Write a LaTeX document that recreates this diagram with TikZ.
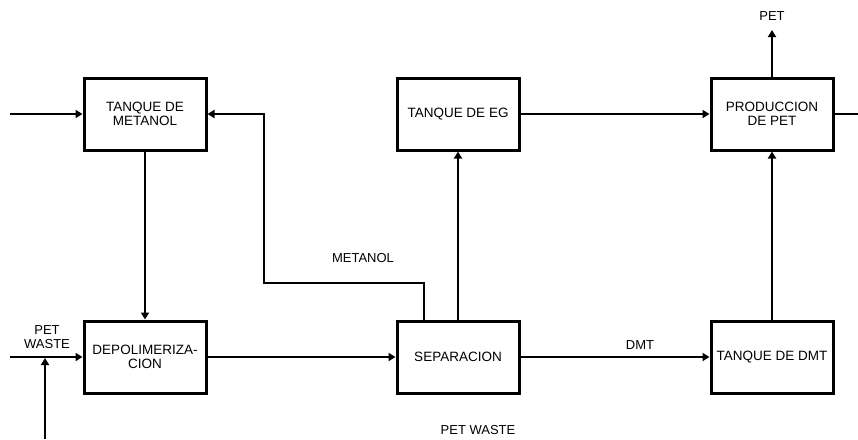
\documentclass[tikz,border=0pt]{standalone}
\usepackage{fontspec}
\setmainfont{Liberation Sans}
\usetikzlibrary{arrows.meta}
\begin{document}
\begin{tikzpicture}[x=1pt,y=-1pt,
  blk/.style={draw,line width=3pt,minimum width=122pt,minimum height=72pt,align=center,inner sep=0pt,font=\fontsize{13.5}{14.5}\selectfont},
  flow/.style={line width=2.6pt,-{Triangle[length=7pt,width=8pt]}},
  plain/.style={line width=2.6pt},
  lbl/.style={font=\fontsize{13}{14.5}\selectfont,inner sep=0pt,align=center}]
\useasboundingbox (0,0) rectangle (858,439);
\node[blk] (tm) at (145,114) {TANQUE DE\\METANOL};
\node[blk] (dp) at (145,357) {DEPOLIMERIZA-\\CION};
\node[blk] (sp) at (458,357) {SEPARACION};
\node[blk] (eg) at (458,114) {TANQUE DE EG};
\node[blk] (pp) at (772,114) {PRODUCCION\\DE PET};
\node[blk] (dm) at (772,357) {TANQUE DE DMT};
\coordinate (in1) at (10,114);
\coordinate (in2) at (10,357);
\coordinate (in3b) at (45,439);
\coordinate (in3t) at (45,358);
\coordinate (m1) at (424,283);
\coordinate (m2) at (264,283);
\coordinate (m3) at (264,114);
\coordinate (out1) at (858,114);
\coordinate (pet) at (772,30);
\draw[flow] (in1) -- (tm.west);
\draw[flow] (tm.south) -- (dp.north);
\draw[flow] (in2) -- (dp.west);
\draw[flow] (in3b) -- (in3t);
\draw[flow] (dp.east) -- (sp.west);
\draw[flow] (sp.north -| m1) -- (m1) -- (m2) -- (m3) -- (tm.east);
\draw[flow] (sp.north) -- (eg.south);
\draw[flow] (eg.east) -- (pp.west);
\draw[plain] (pp.east) -- (out1);
\draw[flow] (pp.north) -- (pet);
\draw[flow] (sp.east) -- (dm.west);
\draw[flow] (dm.north) -- (pp.south);
\node[lbl] (lpw) at (47,337) {PET\\WASTE};
\node[lbl] (lme) at (363,258) {METANOL};
\node[lbl] (ldmt) at (640,345) {DMT};
\node[lbl] (lpet) at (772,16) {PET};
\node[lbl] (lpw2) at (478,430) {PET WASTE};
\end{tikzpicture}
\end{document}
